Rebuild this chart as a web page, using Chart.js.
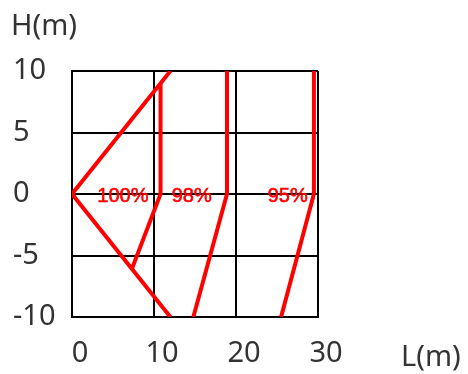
<!DOCTYPE html>
<html>
<head>
<meta charset="utf-8">
<script src="https://cdn.jsdelivr.net/npm/chart.js@4"></script>
<style>
  html, body { margin: 0; padding: 0; background: #fff; }
  #wrap { width: 468px; height: 374px; }
</style>
</head>
<body>
<div id="wrap"><canvas id="chart"></canvas></div>
<script>
// Curve points (L in m, H in m)
const outerL = [12, 0, 12];
const outerH = [10, 0, -10];
const innerL = [10.8, 10.8, 7.3];
const innerH = [9, 0, -6.1];
const line98L = [18.9, 18.9, 14.8];
const line98H = [10, 0, -10];
const line95L = [29.5, 29.5, 25.5];
const line95H = [10, 0, -10];

const pctLabels = ['100%', '98%', '95%'];
const pctL = [6.2, 14.6, 26.3];
const pctH = [-0.2, -0.2, -0.2];

const xTicks = [0, 10, 20, 30];
const yTicks = [10, 5, 0, -5, -10];

function toPoints(ls, hs) {
    return ls.map((l, i) => ({ x: l, y: hs[i] }));
}

function lineSet(ls, hs) {
    return {
        data: toPoints(ls, hs),
        showLine: true,
        borderColor: '#ff0000',
        borderWidth: 4,
        pointRadius: 0,
        tension: 0,
        fill: false
    };
}

const FONT = '"Noto Sans", "Liberation Sans", sans-serif';

// Percentage labels and axis names
const textPlugin = {
    id: 'texts',
    afterDatasetsDraw(chart) {
        const ctx = chart.ctx;
        const xs = chart.scales.x, ys = chart.scales.y;
        ctx.save();
        ctx.fillStyle = '#ff0000';
        ctx.strokeStyle = '#ff0000';
        ctx.lineWidth = 0.6;
        ctx.font = '20px "Liberation Sans", sans-serif';
        ctx.textAlign = 'center';
        ctx.textBaseline = 'middle';
        pctLabels.forEach((t, i) => {
            const px = xs.getPixelForValue(pctL[i]), py = ys.getPixelForValue(pctH[i]);
            ctx.fillText(t, px, py);
            ctx.strokeText(t, px, py);
        });
        ctx.fillStyle = '#333';
        ctx.font = '29px ' + FONT;
        ctx.textAlign = 'left';
        ctx.textBaseline = 'alphabetic';
        ctx.fillText('H(m)', 11, 35);
        ctx.fillText('L(m)', 401, 366);
        ctx.restore();
    }
};

new Chart(document.getElementById('chart'), {
    type: 'scatter',
    data: {
        datasets: [
            lineSet(outerL, outerH),
            lineSet(innerL, innerH),
            lineSet(line98L, line98H),
            lineSet(line95L, line95H)
        ]
    },
    options: {
        responsive: true,
        maintainAspectRatio: false,
        animation: false,
        layout: { padding: { left: 13, right: 150, top: 71, bottom: 0 } },
        plugins: { legend: { display: false }, tooltip: { enabled: false } },
        scales: {
            x: {
                type: 'linear', min: 0, max: 30,
                afterBuildTicks: s => { s.ticks = xTicks.map(v => ({ value: v })); },
                afterFit: s => { s.height = 57; },
                grid: { color: '#000', lineWidth: 2, drawTicks: false },
                border: { color: '#000', width: 2 },
                ticks: { color: '#333', font: { size: 29, family: FONT }, padding: 19, labelOffset: 8, maxRotation: 0 }
            },
            y: {
                type: 'linear', min: -10, max: 10,
                afterBuildTicks: s => { s.ticks = yTicks.map(v => ({ value: v })); },
                afterFit: s => { s.width = 59; },
                grid: { color: '#000', lineWidth: 2, drawTicks: false },
                border: { color: '#000', width: 2 },
                ticks: { color: '#333', font: { size: 29, family: FONT }, crossAlign: 'far', padding: 8 }
            }
        }
    },
    plugins: [textPlugin]
});
</script>
</body>
</html>
